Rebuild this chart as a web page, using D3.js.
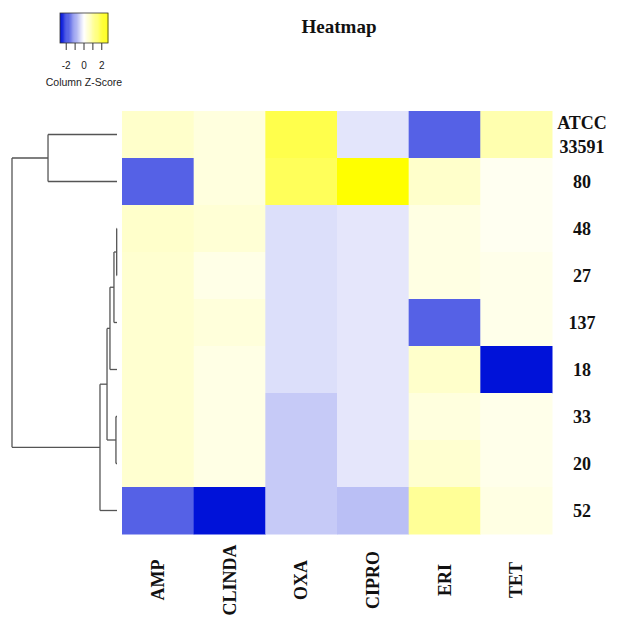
<!DOCTYPE html>
<html>
  <head>
    <title>Heatmap</title>
    <script src="https://cdn.jsdelivr.net/npm/d3@7"></script>
    <style>
      body { margin: 0; background: #fff; }
      .dendro line { stroke: #555; stroke-width: 1.3; }
      .lab { font-family: "Liberation Serif", serif; font-weight: bold; fill: #111; }
      .key text { font-family: "Liberation Sans", Arial, sans-serif; fill: #222; }
    </style>
  </head>
  <body>
    <svg id="chart" width="626" height="625"></svg>
    <script>
      // rows top to bottom, columns left to right
      const rowNames = ["ATCC 33591", "80", "48", "27", "137", "18", "33", "20", "52"];
      const colNames = ["AMP", "CLINDA", "OXA", "CIPRO", "ERI", "TET"];

      // column z-scores (one array per row)
      const zScores = [
        [0.55, 0.35, 1.9, -0.3, -1.8, 0.85],
        [-1.8, 0.35, 1.75, 2.7, 0.55, 0.15],
        [0.55, 0.45, -0.37, -0.28, 0.3, 0.15],
        [0.5, 0.25, -0.37, -0.28, 0.3, 0.22],
        [0.5, 0.38, -0.37, -0.28, -1.8, 0.22],
        [0.5, 0.28, -0.37, -0.28, 0.55, -2.7],
        [0.5, 0.28, -0.6, -0.28, 0.35, 0.22],
        [0.5, 0.28, -0.6, -0.28, 0.5, 0.22],
        [-1.8, -2.7, -0.6, -0.73, 1.1, 0.3]
      ];

      // row dendrogram merges (child ids, merge height)
      const merges = [
        { id: "A", kids: ["48", "27"], h: 0.03 },
        { id: "B", kids: ["A", "137"], h: 0.29 },
        { id: "C", kids: ["B", "18"], h: 0.67 },
        { id: "D", kids: ["33", "20"], h: 0.1 },
        { id: "E", kids: ["C", "D"], h: 0.95 },
        { id: "F", kids: ["E", "52"], h: 1.62 },
        { id: "T", kids: ["ATCC 33591", "80"], h: 6.57 },
        { id: "root", kids: ["T", "F"], h: 10 }
      ];

      const keyTicks = [-2, -1, 0, 1, 2];
      const keyLabels = [-2, 0, 2];

      const svg = d3.select("#chart");

      const x = d3.scaleBand().domain(colNames).range([122, 552]);
      const y = d3.scaleBand().domain(rowNames).range([111, 534]);
      const color = d3.scaleLinear()
        .domain([-2.7, 0, 2.7])
        .range(["#0012d9", "#ffffff", "#ffff00"]);

      // cells
      const cells = [];
      rowNames.forEach((r, i) => colNames.forEach((c, j) => cells.push({ r, c, z: zScores[i][j] })));
      svg.append("g")
        .selectAll("rect")
        .data(cells)
        .join("rect")
        .attr("x", (d) => x(d.c))
        .attr("y", (d) => y(d.r))
        .attr("width", x.bandwidth() + 0.5)
        .attr("height", y.bandwidth() + 0.5)
        .attr("fill", (d) => color(d.z));

      // dendrogram
      const hx = d3.scaleLinear().domain([0, 10]).range([117, 12]);
      const nodes = {};
      rowNames.forEach((r) => (nodes[r] = { h: 0, y: y(r) + y.bandwidth() / 2 }));
      const dg = svg.append("g").attr("class", "dendro");
      merges.forEach((m) => {
        const ks = m.kids.map((k) => nodes[k]);
        const ny = d3.mean(ks, (k) => k.y);
        nodes[m.id] = { h: m.h, y: ny };
        dg.append("line")
          .attr("x1", hx(m.h)).attr("x2", hx(m.h))
          .attr("y1", ks[0].y).attr("y2", ks[1].y);
        ks.forEach((k) => {
          dg.append("line")
            .attr("x1", hx(m.h)).attr("x2", hx(k.h))
            .attr("y1", k.y).attr("y2", k.y);
        });
      });

      // row labels
      svg.append("g")
        .selectAll("text")
        .data(rowNames)
        .join("text")
        .attr("class", "lab")
        .attr("font-size", 18)
        .attr("text-anchor", "middle")
        .each(function (d) {
          const parts = d.split(" ");
          const cy = y(d) + y.bandwidth() / 2;
          parts.forEach((p, i) => {
            d3.select(this).append("tspan")
              .attr("x", 582)
              .attr("y", cy + 6 + (i - (parts.length - 1) / 2) * 24)
              .text(p);
          });
        });

      // column labels
      svg.append("g")
        .selectAll("text")
        .data(colNames)
        .join("text")
        .attr("class", "lab")
        .attr("font-size", 18)
        .attr("text-anchor", "middle")
        .attr("transform", (d) => `translate(${x(d) + x.bandwidth() / 2 + 6},580) rotate(-90)`)
        .text((d) => d);

      // title
      svg.append("text")
        .attr("class", "lab")
        .attr("x", 339)
        .attr("y", 33)
        .attr("font-size", 19)
        .attr("text-anchor", "middle")
        .text("Heatmap");

      // colour key
      const kx = d3.scaleLinear().domain([-2.7, 2.7]).range([60, 108]);
      const key = svg.append("g").attr("class", "key");
      const steps = d3.range(-2.7, 2.7, 0.1);
      key.selectAll("rect.k")
        .data(steps)
        .join("rect")
        .attr("class", "k")
        .attr("x", (d) => kx(d))
        .attr("y", 13)
        .attr("width", kx(0.1) - kx(0) + 0.4)
        .attr("height", 30)
        .attr("fill", (d) => color(d + 0.05));
      key.append("rect")
        .attr("x", 60).attr("y", 13).attr("width", 48).attr("height", 30)
        .attr("fill", "none").attr("stroke", "#333").attr("stroke-width", 0.8);
      key.selectAll("line")
        .data(keyTicks)
        .join("line")
        .attr("x1", (d) => kx(d)).attr("x2", (d) => kx(d))
        .attr("y1", 43).attr("y2", 50)
        .attr("stroke", "#333");
      key.selectAll("text.t")
        .data(keyLabels)
        .join("text")
        .attr("class", "t")
        .attr("x", (d) => kx(d))
        .attr("y", 69)
        .attr("font-size", 10)
        .attr("text-anchor", "middle")
        .text((d) => d);
      key.append("text")
        .attr("x", 84)
        .attr("y", 86)
        .attr("font-size", 10.5)
        .attr("text-anchor", "middle")
        .text("Column Z-Score");
    </script>
  </body>
</html>
